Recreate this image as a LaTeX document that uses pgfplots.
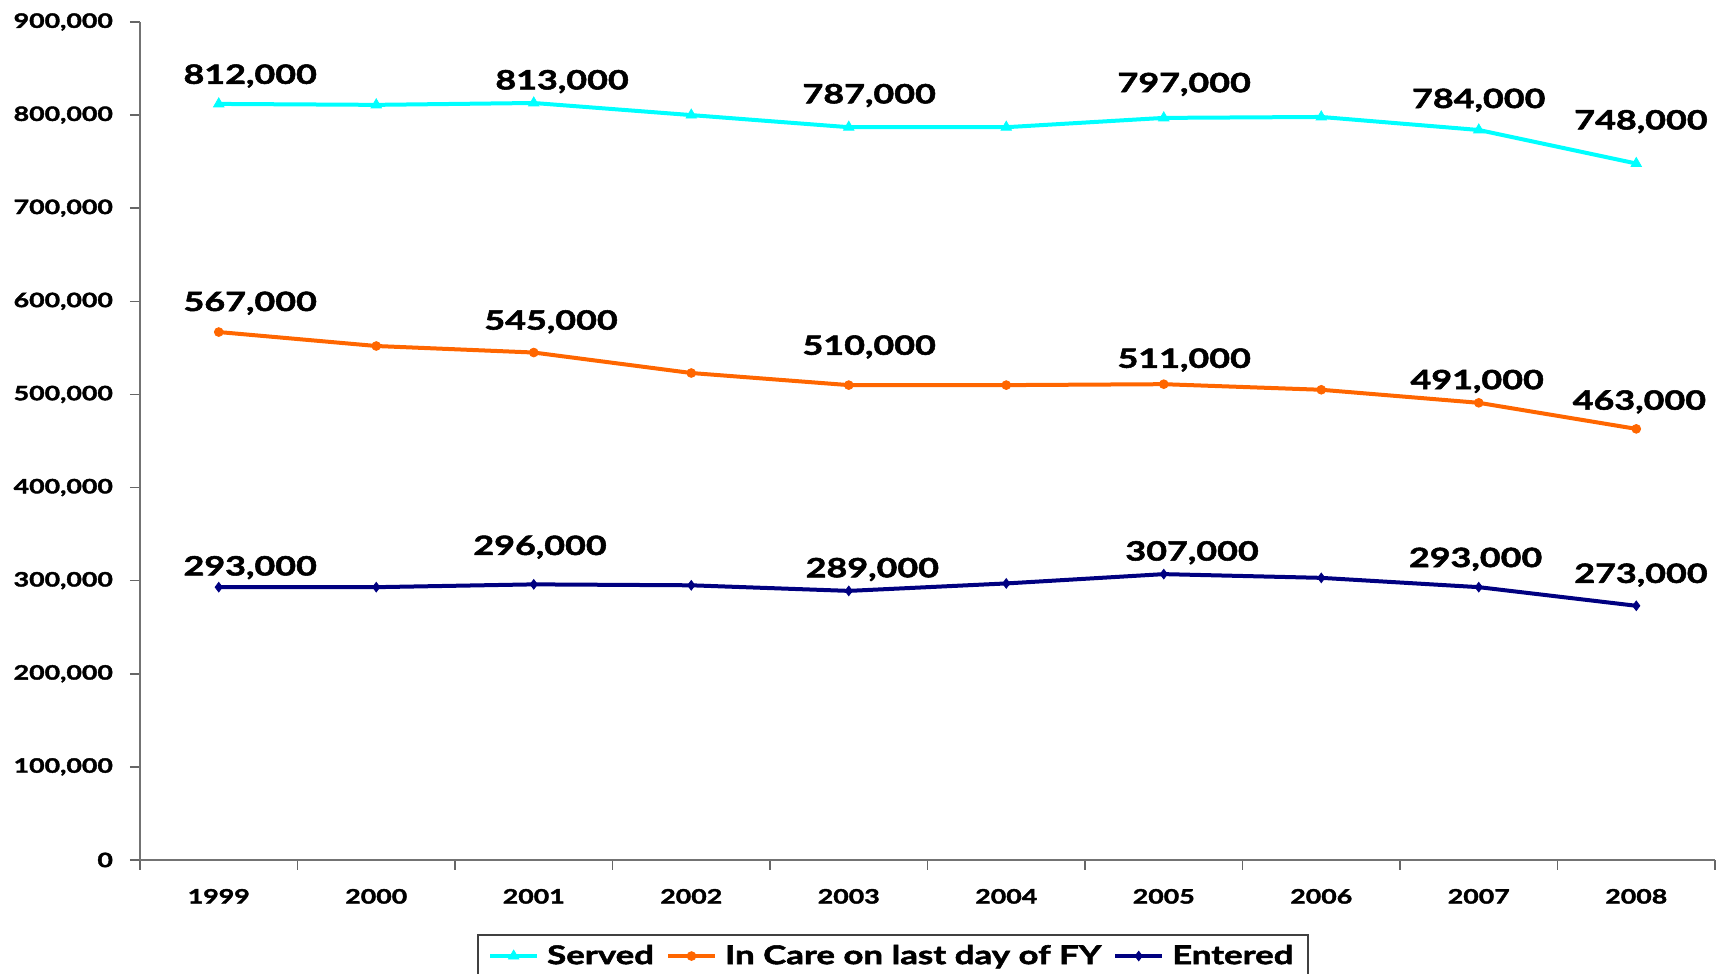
\documentclass[border=0pt]{standalone}
\usepackage{fontspec}
\setmainfont{Lato}[FakeStretch=1.35, BoldFeatures={FakeBold=2}]
\usepackage{pgfplots}
\usepackage{pgfplotstable}
\pgfplotsset{compat=1.18}
\definecolor{cserved}{RGB}{0,255,255}
\definecolor{ccare}{RGB}{255,102,0}
\definecolor{cent}{RGB}{0,0,128}

\pgfplotstableread{
x served incare entered
0 812000 567000 293000
1 811000 552000 293000
2 813000 545000 296000
3 800000 523000 295000
4 787000 510000 289000
5 787000 510000 297000
6 797000 511000 307000
7 798000 505000 303000
8 784000 491000 293000
9 748000 463000 273000
}\data

\pgfplotstableread{
x y lbl
0.20 842000 812,000
2.18 836000 813,000
4.13 821000 787,000
6.13 833000 797,000
8.00 816000 784,000
9.03 793000 748,000
0.20 598000 567,000
2.11 578000 545,000
4.13 551000 510,000
6.13 537000 511,000
7.99 514000 491,000
9.02 492000 463,000
0.20 314000 293,000
2.04 336000 296,000
4.15 312000 289,000
6.18 330000 307,000
7.98 323000 293,000
9.03 306000 273,000
}\labels

\begin{document}
\begin{tikzpicture}
\begin{axis}[
  scale only axis, width=787.5pt, height=419pt,
  xmin=-0.5, xmax=9.5, ymin=0, ymax=900000,
  axis x line=bottom, axis y line=left,
  axis line style={black!55, line width=1pt, -},
  xtick={-0.5,0.5,...,9.5}, xticklabels={,,},
  extra x ticks={0,1,2,3,4,5,6,7,8,9},
  extra x tick labels={1999,2000,2001,2002,2003,2004,2005,2006,2007,2008},
  extra x tick style={major tick length=0pt},
  xticklabel style={yshift=-11pt},
  yticklabel style={xshift=-5pt},
  ytick={0,100000,...,900000},
  tick align=outside, major tick length=5pt,
  tick style={black!60, line width=0.8pt},
  scaled y ticks=false,
  /pgf/number format/.cd, fixed, 1000 sep={,}, assume math mode=true, /pgfplots/.cd,
  tick label style={font=\bfseries\fontsize{9.9}{11}\selectfont},
  legend style={at={(0.478,-0.0883)}, anchor=north, draw=black!75, line width=1pt,
    font=\bfseries\fontsize{12.9}{15}\selectfont, inner xsep=5pt, inner ysep=3pt,
    /tikz/every odd column/.append style={column sep=2pt},
    /tikz/every even column/.append style={column sep=4pt}},
  legend columns=3,
  legend image code/.code={\draw[mark repeat=2,mark phase=2,#1] plot coordinates {(0pt,0pt) (11.75pt,0pt) (23.5pt,0pt)};},
  clip=false,
]
\addplot[cserved, line width=2pt, mark=triangle*, mark size=3pt, mark options={solid, line width=0.4pt}] table[x=x,y=served]{\data};
\addplot[ccare, line width=2pt, mark=*, mark size=2.2pt, mark options={solid, line width=0.4pt}] table[x=x,y=incare]{\data};
\addplot[cent, line width=2pt, mark=diamond*, mark size=2.4pt, mark options={solid, line width=0.4pt}] table[x=x,y=entered]{\data};
\legend{Served, In Care on last day of FY, Entered}
\addplot[draw=none, mark=none, forget plot, nodes near coords, point meta=explicit symbolic,
  every node near coord/.append style={anchor=center, font=\bfseries\fontsize{13.3}{15}\selectfont, inner sep=0pt, text=black}]
  table[x=x,y=y,meta=lbl]{\labels};
\coordinate (SW) at (rel axis cs:0,0);
\coordinate (NE) at (rel axis cs:1,1);
\end{axis}
\pgfresetboundingbox
\path ([xshift=-70pt,yshift=-57pt]SW) rectangle ([xshift=2pt,yshift=11pt]NE);
\end{tikzpicture}
\end{document}
